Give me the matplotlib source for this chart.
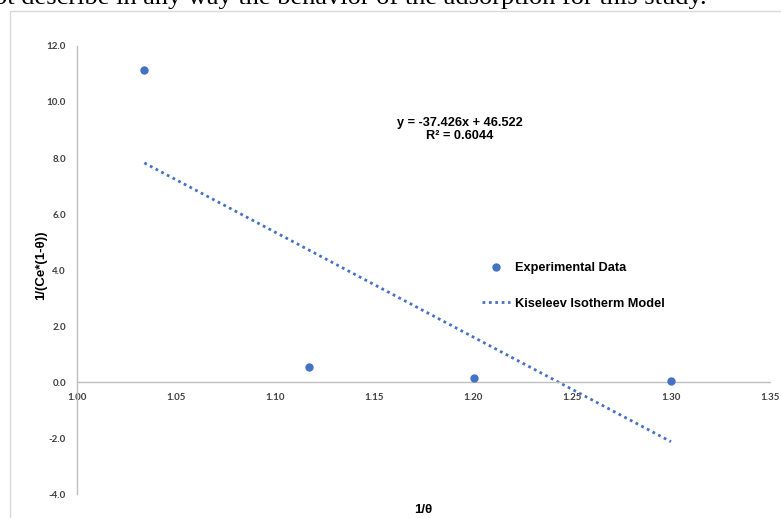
import matplotlib
matplotlib.use("Agg")
import matplotlib.pyplot as plt
from matplotlib.patches import Rectangle
from matplotlib.lines import Line2D
import numpy as np

# Experimental points: 1/theta vs 1/(Ce*(1-theta))
inv_theta = [1.034, 1.117, 1.2005, 1.300]
inv_ce = [11.15, 0.54, 0.13, 0.04]

# Linear fit parameters (Kiseleev isotherm)
slope = -37.426
intercept = 46.522
r_squared = 0.6044

x_ticks = [1.00, 1.05, 1.10, 1.15, 1.20, 1.25, 1.30, 1.35]
y_ticks = [-4.0, -2.0, 0.0, 2.0, 4.0, 6.0, 8.0, 10.0, 12.0]

BLUE = "#4472C4"
AXIS_GREY = "#bfbfbf"
TICK_COLOR = "#404040"

W, H = 781, 518
fig = plt.figure(figsize=(W / 100, H / 100), dpi=100)

# Text fragment above the chart frame
fig.text(707 / W, 1 - 4 / H,
         "ot describe in any way the behavior of the adsorption for this study.",
         ha="right", va="baseline", fontsize=19,
         family="Liberation Serif", color="black")

# Chart frame
fig.patches.append(Rectangle((10 / W, 1 - 11 / H), 2.0, -2.0,
                             transform=fig.transFigure, fill=False,
                             edgecolor="#d9d9d9", linewidth=1.0,
                             zorder=0))

ax = fig.add_axes([77 / W, 24 / H, (770 - 77) / W, (494 - 46) / H])
ax.set_xlim(1.00, 1.35)
ax.set_ylim(-4.0, 12.0)

for side in ["top", "right"]:
    ax.spines[side].set_visible(False)
ax.spines["left"].set_color(AXIS_GREY)
ax.spines["left"].set_linewidth(1.0)
ax.spines["bottom"].set_position(("data", 0.0))
ax.spines["bottom"].set_color(AXIS_GREY)
ax.spines["bottom"].set_linewidth(1.0)

ax.set_xticks(x_ticks)
ax.set_xticklabels([f"{v:.2f}" for v in x_ticks])
ax.set_yticks(y_ticks)
ax.set_yticklabels([f"{v:.1f}" for v in y_ticks])
ax.tick_params(axis="both", length=0, labelsize=7, colors=TICK_COLOR)
ax.tick_params(axis="x", pad=8)
ax.tick_params(axis="y", pad=8)
for lbl in ax.get_xticklabels() + ax.get_yticklabels():
    lbl.set_fontweight("bold")
    lbl.set_family("Lato")

# Trend line over the data range
fit_x = np.array([min(inv_theta), max(inv_theta)])
fit_y = slope * fit_x + intercept
ax.plot(fit_x, fit_y, linestyle=(0, (1, 1.3)), color=BLUE, linewidth=2.0,
        zorder=2)

ax.plot(inv_theta, inv_ce, linestyle="none", marker="o", markersize=5,
        color=BLUE, zorder=3)

ax.text(1.1935, 9.02,
        f"y = {slope}x + {intercept}\nR² = {r_squared}",
        ha="center", va="center", multialignment="center",
        fontsize=9.2, fontweight="bold", family="Liberation Sans",
        color="black", linespacing=1.2)

ax.set_xlabel("1/θ", fontsize=9.5, fontweight="bold",
              family="Liberation Sans", color="black")
ax.xaxis.set_label_coords(0.5, -0.022)
ax.set_ylabel("1/(Ce*(1-θ))", fontsize=9.5, fontweight="bold",
              family="Liberation Sans", color="black")
ax.yaxis.set_label_coords(-0.0426, 0.511)

handles = [
    Line2D([], [], linestyle="none", marker="o", markersize=5, color=BLUE),
    Line2D([], [], linestyle=(0, (1, 1.3)), color=BLUE, linewidth=2.0),
]
labels = ["Experimental Data", "Kiseleev Isotherm Model"]
leg = fig.legend(handles, labels, loc="upper left",
                 bbox_to_anchor=(482 / W, 1 - 262 / H),
                 frameon=False, borderpad=0, borderaxespad=0,
                 handlelength=2.2, handletextpad=0.35, labelspacing=1.85,
                 prop={"family": "Liberation Sans", "weight": "bold",
                       "size": 9.2})

fig.savefig("out.png", dpi=100)
